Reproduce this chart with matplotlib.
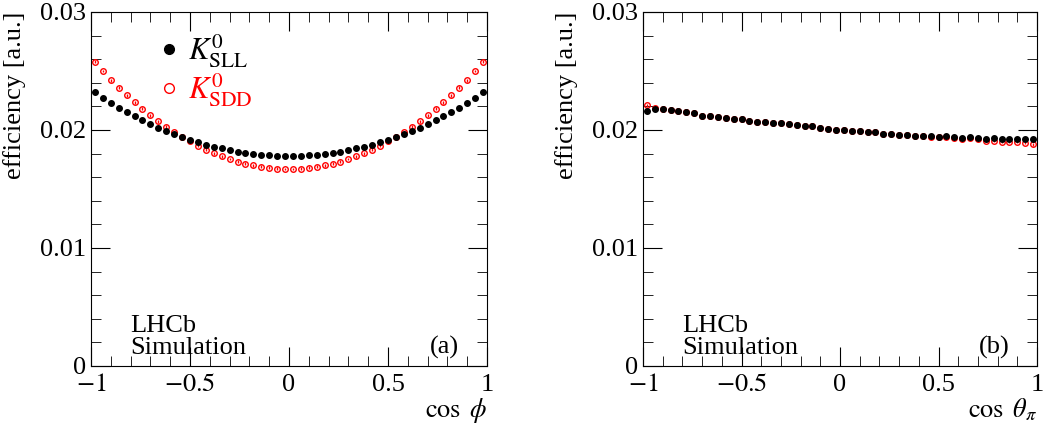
import numpy as np
import matplotlib.pyplot as plt
from matplotlib.ticker import MultipleLocator
from matplotlib.lines import Line2D

plt.rcParams["font.family"] = ["Liberation Serif", "DejaVu Serif"]
plt.rcParams["mathtext.fontset"] = "stix"

# bin centres, 50 bins over [-1, 1]
x = np.linspace(-0.98, 0.98, 50)

half_sll = [0.02320, 0.02270, 0.02226, 0.02187, 0.02150, 0.02115, 0.02081, 0.02050, 0.02020, 0.01991,
            0.01965, 0.01940, 0.01918, 0.01896, 0.01877, 0.01859, 0.01844, 0.01830, 0.01817, 0.01807,
            0.01798, 0.01791, 0.01786, 0.01782, 0.01780]
half_sdd = [0.02580, 0.02500, 0.02423, 0.02358, 0.02295, 0.02236, 0.02179, 0.02126, 0.02075, 0.02027,
            0.01983, 0.01941, 0.01903, 0.01867, 0.01834, 0.01804, 0.01778, 0.01754, 0.01733, 0.01715,
            0.01700, 0.01688, 0.01679, 0.01673, 0.01670]
phi_sll = half_sll + half_sll[::-1]
phi_sdd = half_sdd + half_sdd[::-1]

theta_sll = [0.0216, 0.0218, 0.0218, 0.0217, 0.0216, 0.0215, 0.0214, 0.0212, 0.0212, 0.0211,
             0.0210, 0.0209, 0.0209, 0.0208, 0.0207, 0.0207, 0.0206, 0.0206, 0.0205, 0.0204,
             0.0203, 0.0203, 0.0202, 0.0201, 0.0200, 0.0200, 0.0199, 0.0199, 0.0198, 0.0198,
             0.0197, 0.0197, 0.0196, 0.0196, 0.0195, 0.0195, 0.0195, 0.0194, 0.0195, 0.0194,
             0.0193, 0.0194, 0.0193, 0.0192, 0.0193, 0.0192, 0.0192, 0.0192, 0.0192, 0.0192]
theta_sdd = [0.0221, 0.0219, 0.0218, 0.0217, 0.0216, 0.0215, 0.0214, 0.0212, 0.0212, 0.0211,
             0.0210, 0.0209, 0.0209, 0.0208, 0.0207, 0.0207, 0.0206, 0.0206, 0.0205, 0.0204,
             0.0203, 0.0203, 0.0202, 0.0201, 0.0200, 0.0200, 0.0199, 0.0199, 0.0198, 0.0198,
             0.0197, 0.0197, 0.0196, 0.0196, 0.0195, 0.0195, 0.0194, 0.0194, 0.0194, 0.0193,
             0.0192, 0.0193, 0.0192, 0.0191, 0.0191, 0.0190, 0.0190, 0.0190, 0.0189, 0.0188]

fig = plt.figure(figsize=(10.46, 4.32), dpi=100)
axes = [fig.add_axes([91/1046, 66/432, 396/1046, 354/432]),
        fig.add_axes([643/1046, 66/432, 394/1046, 354/432])]

panels = [(phi_sll, phi_sdd, r"$\cos\ \phi$", "(a)"),
          (theta_sll, theta_sdd, r"$\cos\ \theta_{\pi}$", "(b)")]

for ax, (ysll, ysdd, xlab, tag) in zip(axes, panels):
    ax.errorbar(x, ysdd, yerr=0.00012, fmt="o", ms=4, mfc="none", mec="red",
                mew=1.0, ecolor="red", elinewidth=1, capsize=0)
    ax.errorbar(x, ysll, yerr=0.00012, fmt="o", ms=4, color="black",
                ecolor="black", elinewidth=1, capsize=0)
    ax.set_xlim(-1, 1)
    ax.set_ylim(0, 0.03)
    ax.yaxis.set_minor_locator(MultipleLocator(0.002))
    ax.xaxis.set_minor_locator(MultipleLocator(0.1))
    ax.set_yticks([0, 0.01, 0.02, 0.03], ["0", "0.01", "0.02", "0.03"])
    ax.set_xticks([-1, -0.5, 0, 0.5, 1], ["$-1$", "$-0.5$", "0", "0.5", "1"])
    ax.tick_params(which="both", direction="in", top=True, right=True, labelsize=19)
    ax.tick_params(which="major", length=14)
    ax.tick_params(which="minor", length=7)
    ax.tick_params(axis="x", pad=6)
    ax.set_ylabel("efficiency [a.u.]", fontsize=19, loc="top")
    ax.yaxis.set_label_coords(-0.165, 1.0)
    ax.set_xlabel(xlab, fontsize=19, loc="right", labelpad=0)
    ax.text(0.1, 0.035, "LHCb\nSimulation", transform=ax.transAxes, fontsize=19,
            linespacing=0.95)
    ax.text(0.93, 0.035, tag, transform=ax.transAxes, fontsize=19, ha="right")

handles = [Line2D([], [], ls="none", marker="o", ms=7, color="black"),
           Line2D([], [], ls="none", marker="o", ms=7, mfc="none", mec="red")]
leg = axes[0].legend(handles, [r"$K^0_{\rm SLL}$", r"$K^0_{\rm SDD}$"], loc="upper left",
                     bbox_to_anchor=(0.09, 1.02), frameon=False, fontsize=22,
                     handletextpad=0.1, handlelength=1, labelspacing=0.05)
leg.get_texts()[1].set_color("red")

fig.savefig("out.png", dpi=100)
